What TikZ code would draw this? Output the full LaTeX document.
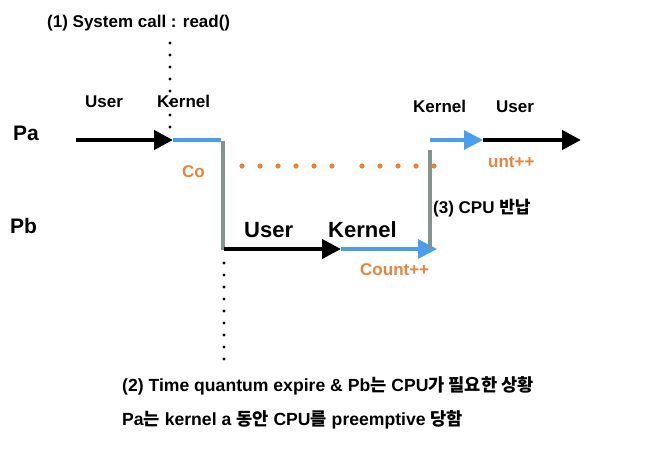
\documentclass[tikz,border=0pt]{standalone}
\usepackage{fontspec}
\setmainfont{Liberation Sans}
\newfontfamily\kr{Noto Sans CJK KR}
\usetikzlibrary{arrows.meta}
\definecolor{kblue}{RGB}{74,158,240}
\definecolor{korange}{RGB}{232,131,58}
\definecolor{kgray}{RGB}{132,148,145}
\newcommand{\ko}[1]{{\kr\bfseries #1}}

\begin{document}
\begin{tikzpicture}[x=1pt,y=-1pt,
		txt/.style={anchor=base west,inner sep=0pt,font=\fontsize{17}{20}\selectfont\bfseries},
		note/.style={txt,font=\fontsize{17.6}{21}\selectfont\bfseries},
		big/.style={txt,font=\fontsize{22}{26}\selectfont\bfseries},
		proc/.style={txt,font=\fontsize{21}{25}\selectfont\bfseries},
		org/.style={txt,text=korange},
		tip/.style={-{Triangle[length=19pt,width=19pt]}}]
	\useasboundingbox (0,0) rectangle (646,472);
	% Pa row, left part
	\coordinate (A0) at (76,140);
	\coordinate (A1) at (173,140);
	\coordinate (A2) at (221,140);
	\draw [line width=4.5pt,tip] (A0) to (A1);
	\draw [kblue,line width=3.2pt] (A1) to (A2);
	% switch down to Pb
	\coordinate (G1) at (223,141);
	\coordinate (G2) at (223,250);
	\draw [kgray,line width=3.2pt] (G1) to (G2);
	% Pb row
	\coordinate (B0) at (224,249);
	\coordinate (B1) at (341,249);
	\coordinate (B2) at (437,249);
	\draw [line width=4pt,tip] (B0) to (B1);
	\draw [kblue,line width=3.2pt,tip] (B1) to (B2);
	% switch back up to Pa
	\coordinate (H1) at (430,150);
	\coordinate (H2) at (430,249);
	\draw [kgray,line width=3.2pt] (H1) to (H2);
	% Pa row, right part
	\coordinate (C0) at (430,140);
	\coordinate (C1) at (483,140);
	\coordinate (C2) at (581,140);
	\draw [kblue,line width=3.2pt,tip] (C0) to (C1);
	\draw [line width=4.5pt,tip] (C1) to (C2);
	% dotted marks
	\foreach \y in {43,55,...,127}
		\fill (170,\y) circle (1.7pt);
	\foreach \y in {263,275,...,359}
		\fill (224,\y) circle (1.7pt);
	\foreach \x in {242,260,278,296,314,332,362,380,398,416,434}
		\fill [korange] (\x,166) circle (2.6pt);
	% labels
	\node [txt] (sys) at (47,27) {(1) System call : read()};
	\node [txt] (ua) at (85,107) {User};
	\node [txt] (ka) at (157,107) {Kernel};
	\node [proc] (pa) at (13,140) {Pa};
	\node [proc] (pb) at (10,233) {Pb};
	\node [org] (co) at (182,177) {Co};
	\node [big] (ub) at (244,237) {User};
	\node [big] (kb) at (328,237) {Kernel};
	\node [org] (cnt) at (360,275) {Count++};
	\node [txt] (ret) at (433,213) {(3) CPU \ko{반납}};
	\node [txt] (kc) at (413,112) {Kernel};
	\node [txt] (uc) at (496,112) {User};
	\node [org] (unt) at (488,167) {unt++};
	\node [note] (tq) at (122,391) {(2) Time quantum expire \& Pb\ko{는} CPU\ko{가 필요한 상황}};
	\node [note] (pre) at (122,425) {Pa\ko{는} kernel a \ko{동안} CPU\ko{를} preemptive \ko{당함}};
\end{tikzpicture}
\end{document}
